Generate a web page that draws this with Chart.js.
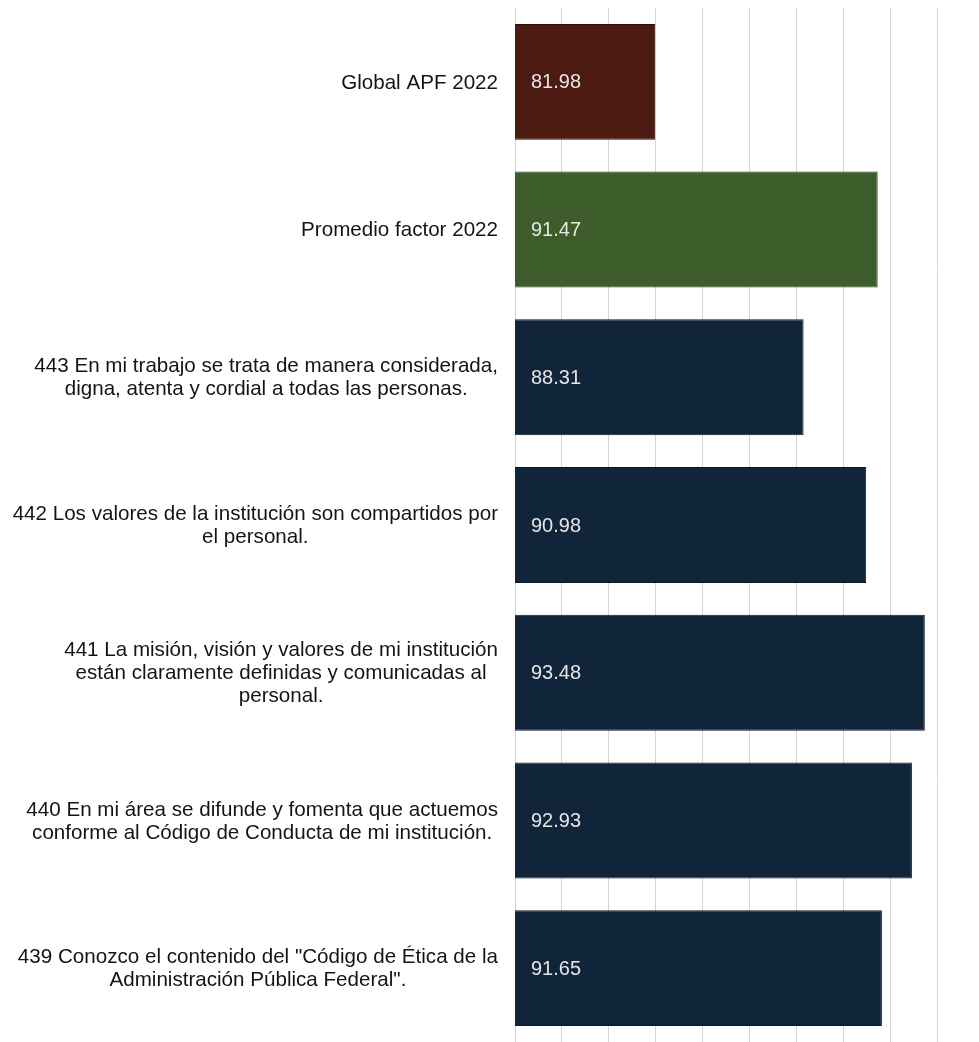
<!DOCTYPE html>
<html>
<head>
<meta charset="utf-8">
<script src="https://cdn.jsdelivr.net/npm/chart.js@4/dist/chart.umd.min.js"></script>
<style>
  html, body { margin: 0; padding: 0; background: #fff; }
  #wrap { width: 979px; height: 1042px; position: relative; }
</style>
</head>
<body>
<div id="wrap"><canvas id="chart"></canvas></div>
<script>
// data
var categories = [
    ['Global APF 2022'],
    ['Promedio factor 2022'],
    ['443 En mi trabajo se trata de manera considerada,', 'digna, atenta y cordial a todas las personas.'],
    ['442 Los valores de la institución son compartidos por', 'el personal.'],
    ['441 La misión, visión y valores de mi institución', 'están claramente definidas y comunicadas al', 'personal.'],
    ['440 En mi área se difunde y fomenta que actuemos', 'conforme al Código de Conducta de mi institución.'],
    ['439 Conozco el contenido del "Código de Ética de la', 'Administración Pública Federal".']
];
var values = [81.98, 91.47, 88.31, 90.98, 93.48, 92.93, 91.65];
var barColors = ['#4d1a12', '#3c5c2a', '#10243a', '#10243a', '#10243a', '#10243a', '#10243a'];
var borderColors = ['#300d08', '#2a431d', '#0a1828', '#0a1828', '#0a1828', '#0a1828', '#0a1828'];

var FONT = '"Liberation Sans", Arial, sans-serif';

// category labels: block right aligned, lines centred inside the block
var categoryLabels = {
    id: 'categoryLabels',
    afterDraw: function (chart) {
        var ctx = chart.ctx;
        var yScale = chart.scales.y;
        var right = chart.chartArea.left - 17;
        var lineH = 23;
        ctx.save();
        ctx.font = '20.6px ' + FONT;
        ctx.fillStyle = '#141414';
        ctx.textAlign = 'center';
        ctx.textBaseline = 'middle';
        categories.forEach(function (lines, i) {
            var w = 0;
            lines.forEach(function (l) { w = Math.max(w, ctx.measureText(l).width); });
            var cx = right - w / 2;
            var cy = yScale.getPixelForValue(i) + 1;
            var top = cy - (lines.length - 1) * lineH / 2;
            lines.forEach(function (l, j) {
                ctx.fillText(l, cx, top + j * lineH);
            });
        });
        ctx.restore();
    }
};

// value labels inside the bars, near the base
var valueLabels = {
    id: 'valueLabels',
    afterDraw: function (chart) {
        var ctx = chart.ctx;
        var xScale = chart.scales.x;
        var yScale = chart.scales.y;
        var x0 = xScale.getPixelForValue(xScale.min);
        ctx.save();
        ctx.font = '20px ' + FONT;
        ctx.fillStyle = '#e6e6e6';
        ctx.textAlign = 'left';
        ctx.textBaseline = 'middle';
        values.forEach(function (v, i) {
            ctx.fillText(v.toFixed(2), x0 + 16, yScale.getPixelForValue(i) + 1);
        });
        ctx.restore();
    }
};

var ctx = document.getElementById('chart').getContext('2d');
ctx.canvas.width = 979;
ctx.canvas.height = 1042;

new Chart(ctx, {
    type: 'bar',
    data: {
        labels: categories,
        datasets: [{
            data: values,
            backgroundColor: barColors,
            borderColor: borderColors,
            borderWidth: 1,
            categoryPercentage: 1,
            barPercentage: 0.785
        }]
    },
    options: {
        indexAxis: 'y',
        responsive: false,
        animation: false,
        layout: { padding: { left: 507, right: 42, top: 8, bottom: 0 } },
        plugins: {
            legend: { display: false },
            tooltip: { enabled: false }
        },
        scales: {
            x: {
                min: 76,
                max: 94,
                ticks: { display: false, stepSize: 2 },
                border: { display: false },
                grid: { color: '#d4d4d4', lineWidth: 1, drawTicks: false }
            },
            y: {
                ticks: { display: false },
                border: { display: false },
                grid: { display: false }
            }
        }
    },
    plugins: [categoryLabels, valueLabels]
});
</script>
</body>
</html>
